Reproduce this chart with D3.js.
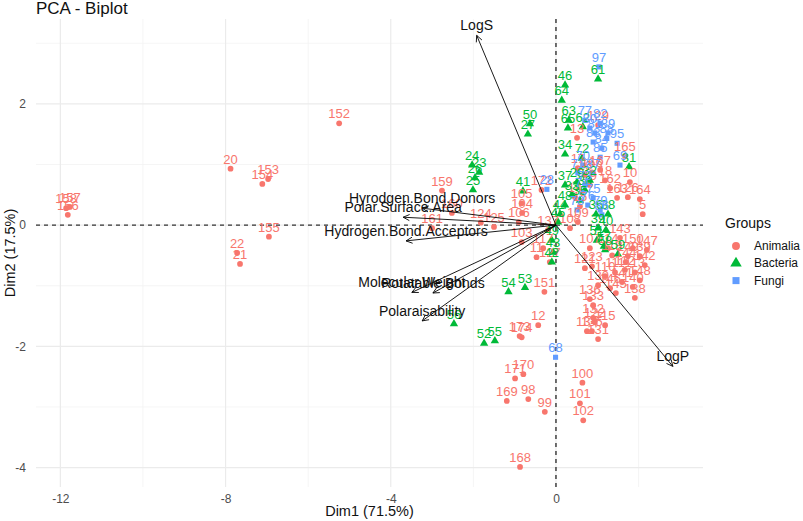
<!DOCTYPE html>
<html><head><meta charset="utf-8">
<script src="https://cdn.jsdelivr.net/npm/d3@7"></script>
<style>body{margin:0;background:#fff;} text{font-family:Arial,"Liberation Sans",sans-serif;}</style>
</head><body><svg id="c" width="803" height="521"></svg>
<script>
// ---- data ----
const groups = ["Animalia","Bacteria","Fungi"];
const groupColors = ["#F8766D","#00BA38","#619CFF"];
const animalia = [
["158",-11.86,0.28],["157",-11.77,0.30],["156",-11.82,0.17],["20",-7.88,0.93],["153",-6.97,0.76],
["154",-7.11,0.68],["155",-6.95,-0.19],["152",-5.25,1.68],["22",-7.72,-0.46],["21",-7.65,-0.64],
["159",-2.76,0.57],["161",-3.0,-0.05],["160",-2.52,0.20],["124",-1.82,0.04],["125",-1.50,-0.03],
["105",-0.83,0.36],["104",-0.82,0.20],["106",-0.90,0.05],["103",-0.83,-0.28],["172",-0.35,0.58],
["11",-0.47,-0.53],["117",-0.31,-0.38],["127",-0.15,-0.61],["151",-0.28,-1.10],["12",-0.43,-1.65],
["174",-0.83,-1.85],["173",-0.88,-1.83],["170",-0.79,-2.46],["171",-0.99,-2.53],["169",-1.19,-2.90],
["98",-0.67,-2.87],["99",-0.27,-3.08],["100",0.64,-2.60],["101",0.58,-2.94],["102",0.66,-3.22],
["168",-0.87,-3.99],["129",1.02,1.65],["13",0.51,1.44],["165",1.67,1.14],["10",1.79,0.71],
["162",1.31,0.61],["163",1.48,0.45],["126",1.74,0.46],["164",2.03,0.43],["5",2.10,0.18],
["166",0.87,0.87],["167",1.07,0.91],["16",0.70,0.83],["17",0.53,0.94],["18",1.19,0.74],
["19",0.82,0.66],["14",0.46,0.46],["15",0.58,0.31],["109",0.53,0.05],["108",0.34,-0.05],
["137",-0.19,-0.08],["107",0.82,-0.38],["143",1.55,-0.21],["150",1.86,-0.38],["139",2.03,-0.51],
["149",1.74,-0.51],["114",1.26,-0.38],["118",1.36,-0.50],["121",0.70,-0.71],["123",0.87,-0.68],
["110",1.19,-0.84],["111",1.43,-0.78],["112",1.67,-0.74],["113",1.91,-0.78],["148",2.03,-0.91],
["140",1.86,-1.02],["141",1.60,-0.94],["142",2.15,-0.66],["144",1.69,-0.61],["145",1.45,-1.12],
["146",1.31,-1.04],["147",2.20,-0.41],["138",1.91,-1.20],["130",1.02,-0.99],["136",0.82,-1.22],
["133",0.90,-1.32],["132",0.90,-1.53],["115",1.19,-1.65],["134",0.75,-1.75],["135",0.87,-1.75],
["131",1.02,-1.88],["122",0.94,-1.60]
];
const bacteria = [
["46",0.22,2.31],["64",0.14,2.06],["61",1.02,2.41],["50",-0.63,1.67],["27",-0.68,1.50],
["63",0.31,1.73],["65",0.29,1.60],["62",0.65,1.62],["34",0.22,1.17],["72",0.63,1.10],
["31",1.77,0.96],["24",-2.03,0.99],["23",-1.86,0.87],["26",-1.96,0.78],["25",-2.01,0.58],
["41",-0.80,0.56],["49",-0.10,-0.25],["42",-0.10,-0.61],["43",-0.07,-0.45],["54",-1.15,-1.10],
["53",-0.75,-1.03],["56",-2.47,-1.63],["52",-1.74,-1.95],["55",-1.48,-1.91],["51",0.99,-0.25],
["57",1.16,-0.35],["58",1.19,-0.41],["59",1.50,-0.48],["44",0.10,0.18],["48",0.22,0.33],
["45",0.05,0.05],["36",0.97,0.18],["38",1.26,0.18],["39",1.02,-0.05],["40",1.21,-0.08],
["29",0.51,0.71],["30",0.70,0.58],["32",0.82,0.74],["33",0.39,0.50],["35",0.58,0.41],["37",0.22,0.66]
];
const fungi = [
["97",1.04,2.61],["28",-0.22,0.59],["68",-0.01,-2.18],["77",0.70,1.73],["95",1.48,1.35],
["80",0.82,1.60],["81",0.94,1.52],["82",1.07,1.68],["83",0.90,1.37],["84",1.11,1.27],
["85",1.07,1.12],["69",1.55,0.99],["70",0.65,0.99],["71",0.53,0.86],["73",0.70,0.66],
["74",0.63,0.54],["75",0.90,0.45],["76",0.77,0.33],["78",0.51,0.25],["79",1.07,0.25],
["86",1.11,0.17],["87",0.90,0.86],["88",1.23,1.43],["89",1.26,1.52]
];
const varNames = ["LogS","LogP","Hyrodgen.Bond.Donors","Polar.Surface.Area","Hydrogen.Bond.Acceptors","Molecular.Weight","Rotatable.Bonds","Polaraisability"];
const varX = [-1.92, 2.83, -3.24, -3.70, -3.63, -3.49, -2.98, -3.24];
const varY = [3.13, -2.33, 0.28, 0.13, -0.26, -1.11, -1.12, -1.58];
const xTicks = [-12,-8,-4,0];
const xMinor = [-10,-6,-2,2];
const yTicks = [-4,-2,0,2];
const yMinor = [-3,-1,1,3];

// ---- layout ----
const svg = d3.select("#c");
const L=36, R=703, T=19, B=487;
const x = d3.scaleLinear().domain([-12.59,3.56]).range([L,R]);
const y = d3.scaleLinear().domain([-4.32,3.40]).range([B,T]);

const g = svg.append("g");
// grid
g.selectAll(".vmin").data(xMinor).join("line").attr("x1",d=>x(d)).attr("x2",d=>x(d)).attr("y1",T).attr("y2",B).attr("stroke","#f2f2f2").attr("stroke-width",0.8);
g.selectAll(".hmin").data(yMinor).join("line").attr("y1",d=>y(d)).attr("y2",d=>y(d)).attr("x1",L).attr("x2",R).attr("stroke","#f2f2f2").attr("stroke-width",0.8);
g.selectAll(".vmaj").data(xTicks).join("line").attr("x1",d=>x(d)).attr("x2",d=>x(d)).attr("y1",T).attr("y2",B).attr("stroke","#ebebeb").attr("stroke-width",1.2);
g.selectAll(".hmaj").data(yTicks).join("line").attr("y1",d=>y(d)).attr("y2",d=>y(d)).attr("x1",L).attr("x2",R).attr("stroke","#ebebeb").attr("stroke-width",1.2);

// axes via d3 axis (no domain line, no ticks)
const xa = svg.append("g").attr("transform",`translate(0,${B})`).call(d3.axisBottom(x).tickValues(xTicks).tickSize(0).tickPadding(7).tickFormat(d3.format("d")));
const ya = svg.append("g").attr("transform",`translate(${L},0)`).call(d3.axisLeft(y).tickValues(yTicks).tickSize(0).tickPadding(10).tickFormat(d3.format("d")));
[xa,ya].forEach(a=>{a.select(".domain").remove(); a.selectAll("text").attr("fill","#4d4d4d").style("font-size","12px").style("font-family","Arial, 'Liberation Sans', sans-serif");});
xa.selectAll("text").text(d=>d<0?"-"+Math.abs(d):d);
ya.selectAll("text").text(d=>d<0?"-"+Math.abs(d):d);

// reference dashed lines
g.append("line").attr("x1",L).attr("x2",R).attr("y1",y(0)).attr("y2",y(0)).attr("stroke","#333").attr("stroke-width",1.4).attr("stroke-dasharray","4,4");
g.append("line").attr("x1",x(0)).attr("x2",x(0)).attr("y1",T).attr("y2",B).attr("stroke","#333").attr("stroke-width",1.4).attr("stroke-dasharray","4,4");

// individuals
const shapes=[d3.symbolCircle,d3.symbolTriangle,d3.symbolSquare];
const sizes=[26,30,26];
const sets=[animalia,bacteria,fungi];
sets.forEach((set,i)=>{
  const gg=svg.append("g");
  gg.selectAll("path").data(set).join("path")
    .attr("d",d3.symbol().type(shapes[i]).size(sizes[i]))
    .attr("transform",d=>`translate(${x(d[1])},${y(d[2])})`)
    .attr("fill",groupColors[i]);
});
sets.forEach((set,i)=>{
  svg.append("g").selectAll("text").data(set).join("text")
    .attr("x",d=>x(d[1])).attr("y",d=>y(d[2])-5)
    .attr("text-anchor","middle").attr("fill",groupColors[i]).style("font-size","13px")
    .text(d=>d[0]);
});

// variable arrows
const vg=svg.append("g");
varNames.forEach((n,i)=>{
  const x0=x(0), y0=y(0), x1=x(varX[i]), y1=y(varY[i]);
  vg.append("line").attr("x1",x0).attr("y1",y0).attr("x2",x1).attr("y2",y1).attr("stroke","#000").attr("stroke-width",0.9);
  const ang=Math.atan2(y1-y0,x1-x0), len=7, sp=Math.PI/7;
  [1,-1].forEach(s=>{
    vg.append("line").attr("x1",x1).attr("y1",y1)
      .attr("x2",x1-len*Math.cos(ang+s*sp)).attr("y2",y1-len*Math.sin(ang+s*sp))
      .attr("stroke","#000").attr("stroke-width",0.9);
  });
  vg.append("text").attr("x",x1).attr("y",y1-5).attr("text-anchor","middle").attr("fill","#111").style("font-size","14px").text(n);
});

// titles
svg.append("text").attr("x",36).attr("y",14).style("font-size","17px").attr("fill","#111").text("PCA - Biplot");
svg.append("text").attr("x",(L+R)/2).attr("y",516).attr("text-anchor","middle").style("font-size","14.5px").attr("fill","#111").text("Dim1 (71.5%)");
svg.append("text").attr("transform",`translate(15,${(T+B)/2}) rotate(-90)`).attr("text-anchor","middle").style("font-size","14.5px").attr("fill","#111").text("Dim2 (17.5%)");

// legend
const lg=svg.append("g");
lg.append("text").attr("x",725).attr("y",228).style("font-size","14px").attr("fill","#111").text("Groups");
groups.forEach((gname,i)=>{
  const cy=246+i*17.3;
  lg.append("path").attr("d",d3.symbol().type(shapes[i]).size(sizes[i]*1.9)).attr("transform",`translate(736,${cy})`).attr("fill",groupColors[i]);
  lg.append("text").attr("x",754).attr("y",cy+4).style("font-size","12px").attr("fill","#111").text(gname);
});
</script></body></html>
